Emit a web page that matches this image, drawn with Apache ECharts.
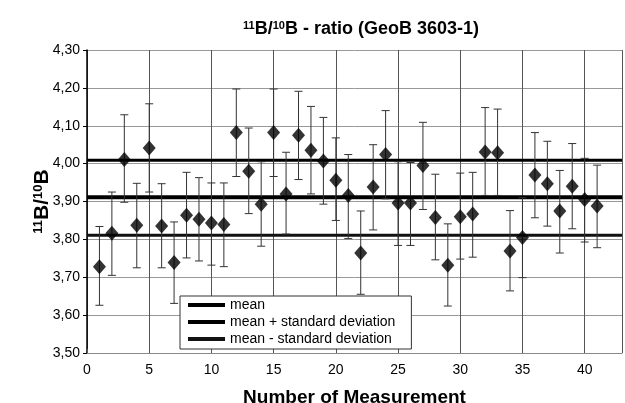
<!DOCTYPE html>
<html>
<head>
<meta charset="utf-8">
<script src="https://cdn.jsdelivr.net/npm/echarts@6/dist/echarts.min.js"></script>
<style>html,body{margin:0;padding:0;background:#fff}#c{width:625px;height:403px}</style>
</head>
<body>
<div id="c"></div>
<script>
const measurement = [1,2,3,4,5,6,7,8,9,10,11,12,13,14,15,16,17,18,19,20,21,22,23,24,25,26,27,28,29,30,31,32,33,34,35,36,37,38,39,40,41];
const ratio = [3.728,3.816,4.011,3.837,4.041,3.835,3.739,3.864,3.853,3.843,3.839,4.082,3.980,3.893,4.082,3.920,4.075,4.035,4.007,3.956,3.916,3.764,3.938,4.024,3.896,3.896,3.995,3.858,3.732,3.860,3.867,4.031,4.029,3.769,3.805,3.970,3.947,3.875,3.940,3.905,3.888];
const errLow = [3.626,3.705,3.898,3.725,3.925,3.725,3.631,3.751,3.743,3.732,3.728,3.966,3.868,3.782,3.966,3.814,3.958,3.920,3.893,3.850,3.802,3.655,3.825,3.907,3.784,3.784,3.879,3.746,3.624,3.748,3.753,3.916,3.916,3.664,3.699,3.857,3.835,3.764,3.828,3.793,3.778];
const errHigh = [3.834,3.925,4.129,3.948,4.158,3.947,3.846,3.977,3.963,3.949,3.949,4.197,4.094,4.005,4.197,4.030,4.191,4.151,4.122,4.068,4.024,3.875,4.050,4.140,4.005,4.003,4.109,3.972,3.841,3.975,3.977,4.148,4.144,3.876,3.910,4.082,4.059,3.982,4.053,4.014,3.996];
const meanValue = 3.911;
const meanPlusSd = 4.009;
const meanMinusSd = 3.811;
const xRange = [0, 43];
const legendNames = ['mean', 'mean + standard deviation', 'mean - standard deviation'];

const chart = echarts.init(document.getElementById('c'));
const font = 'Liberation Sans, Arial, sans-serif';
const points = measurement.map((m, i) => [m, ratio[i]]);
const bars = measurement.map((m, i) => [m, errLow[i], errHigh[i]]);
const hline = v => xRange.map(x => [x, v]);

const option = {
  animation: false,
  backgroundColor: '#fff',
  title: {
    text: '{sup|11}{b|B/}{sup|10}{b|B - ratio (GeoB 3603-1)}',
    left: 356, top: 15, textAlign: 'center',
    textStyle: {
      rich: {
        b: {fontSize: 18, fontWeight: 'bold', fontFamily: font, color: '#000'},
        sup: {fontSize: 11, fontWeight: 'bold', fontFamily: font, color: '#000', verticalAlign: 'top'}
      }
    }
  },
  legend: {
    data: legendNames,
    orient: 'vertical',
    left: 180, top: 296,
    icon: 'rect',
    itemWidth: 37, itemHeight: 4, itemGap: 3,
    padding: [2, 16, 3, 8],
    borderColor: '#333', borderWidth: 1,
    backgroundColor: '#fff',
    textStyle: {fontSize: 14, fontFamily: font, color: '#000'}
  },
  grid: {left: 87, right: 3, top: 50, bottom: 50, containLabel: false, outerBoundsMode: 'none'},
  xAxis: {
    type: 'value', min: xRange[0], max: xRange[1], interval: 5,
    name: 'Number of Measurement', nameLocation: 'middle', nameGap: 35, nameMoveOverlap: false,
    nameTextStyle: {fontSize: 19, fontWeight: 'bold', fontFamily: font, color: '#000'},
    axisLine: {show: true, lineStyle: {color: '#888', width: 1}},
    axisTick: {show: true, inside: true, length: 4, lineStyle: {color: '#555'}},
    axisLabel: {fontSize: 14, fontFamily: font, color: '#000', margin: 10,
      formatter: v => (v % 5 === 0 ? String(v) : '')},
    splitLine: {show: true, lineStyle: {color: '#555', width: 1}}
  },
  yAxis: {
    type: 'value', min: 3.5, max: 4.3, interval: 0.1,
    name: '{sup|11}{b|B/}{sup|10}{b|B}', nameLocation: 'middle', nameGap: 45, nameRotate: 90,
    nameMoveOverlap: false,
    nameTextStyle: {
      verticalAlign: 'middle', align: 'center',
      rich: {
        b: {fontSize: 21, fontWeight: 'bold', fontFamily: font, color: '#000'},
        sup: {fontSize: 13, fontWeight: 'bold', fontFamily: font, color: '#000', verticalAlign: 'top'}
      }
    },
    axisLine: {show: true, lineStyle: {color: '#000', width: 1.5}},
    axisTick: {show: true, length: 4, lineStyle: {color: '#000'}},
    axisLabel: {fontSize: 14, fontFamily: font, color: '#000', margin: 7,
      formatter: v => v.toFixed(2).replace('.', ',')},
    splitLine: {show: true, lineStyle: {color: '#999', width: 1}}
  },
  series: [
    {name: legendNames[0], type: 'line', data: hline(meanValue), symbol: 'none', z: 3,
      lineStyle: {color: '#000', width: 4}, itemStyle: {color: '#000'}},
    {name: legendNames[1], type: 'line', data: hline(meanPlusSd), symbol: 'none', z: 3,
      lineStyle: {color: '#000', width: 3}, itemStyle: {color: '#000'}},
    {name: legendNames[2], type: 'line', data: hline(meanMinusSd), symbol: 'none', z: 3,
      lineStyle: {color: '#111', width: 3}, itemStyle: {color: '#111'}},
    {
      type: 'custom', z: 4,
      data: bars,
      encode: {x: 0, y: [1, 2]},
      renderItem: (params, api) => {
        const x = api.value(0);
        const lo = api.coord([x, api.value(1)]);
        const hi = api.coord([x, api.value(2)]);
        const w = 4;
        const st = {stroke: '#333', lineWidth: 1};
        return {type: 'group', children: [
          {type: 'line', shape: {x1: lo[0], y1: lo[1], x2: hi[0], y2: hi[1]}, style: st},
          {type: 'line', shape: {x1: lo[0] - w, y1: lo[1], x2: lo[0] + w, y2: lo[1]}, style: st},
          {type: 'line', shape: {x1: hi[0] - w, y1: hi[1], x2: hi[0] + w, y2: hi[1]}, style: st}
        ]};
      }
    },
    {type: 'scatter', data: points, symbol: 'diamond', symbolSize: [13, 15], z: 5,
      itemStyle: {color: '#000'}}
  ]
};
chart.setOption(option);
</script>
</body>
</html>
